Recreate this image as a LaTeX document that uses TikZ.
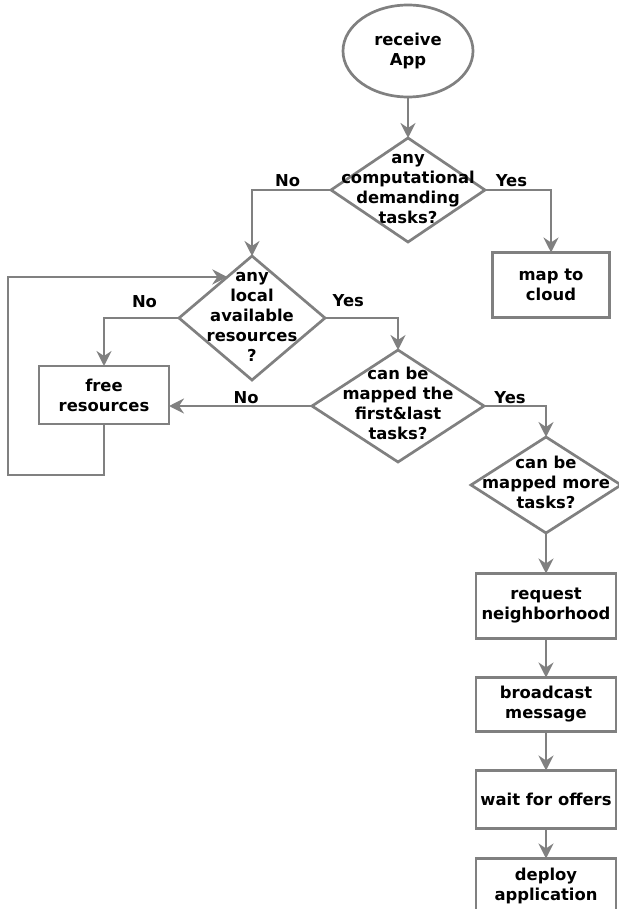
\documentclass[tikz,border=0pt]{standalone}
\usepackage{fontspec}
\setmainfont{DejaVu Sans}
\usepackage{tikz}
\usetikzlibrary{positioning, shapes.geometric, arrows.meta}
\definecolor{flowgray}{RGB}{128,128,128}
\newcommand{\dectext}[1]{\makebox[0pt]{\smash{\raisebox{-4pt}{\begin{tabular}{@{}c@{}}#1\end{tabular}}}}}
\tikzset{
    base/.style={draw=flowgray, line width=2.7pt, fill=white, align=center, text=black, outer sep=0pt, font=\bfseries\fontsize{16.4}{20}\selectfont},
    startnode/.style={base, ellipse, minimum width=130pt, minimum height=92pt, inner sep=0pt},
    box/.style={base, rectangle, minimum width=140pt, minimum height=60pt, inner sep=2pt},
    decision/.style={base, diamond, inner sep=0pt},
    arrow/.style={draw=flowgray, line width=2.7pt, -{Stealth[length=15pt, width=15pt, inset=5pt]}},
    answer/.style={font=\bfseries\fontsize{16.4}{20}\selectfont, inner sep=1pt}
}
\begin{document}
\begin{tikzpicture}[x=1pt, y=-1pt]
    \useasboundingbox (0,0) rectangle (618,909);
    % Nodes
    \node [startnode] (recv) at (408,51) {receive\\App};
    \node [decision, minimum width=154pt, minimum height=104pt] (compute) at (408,190) {\dectext{any\\computational\\demanding\\tasks?}};
    \node [box, minimum width=117pt, minimum height=65pt] (cloud) at (551,285) {map to\\cloud};
    \node [decision, minimum width=146pt, minimum height=124pt] (local) at (252,318) {\dectext{any\\local\\available\\resources\\?}};
    \node [box, minimum width=130pt, minimum height=58pt] (free) at (104,395) {free\\resources};
    \node [decision, minimum width=172pt, minimum height=112pt] (firstlast) at (398,406) {\dectext{can be\\mapped the\\first\&last\\tasks?}};
    \node [decision, minimum width=150pt, minimum height=96pt] (more) at (546,485) {\dectext{can be\\mapped more\\tasks?}};
    \node [box, minimum height=65pt] (request) at (546,606) {request\\neighborhood};
    \node [box, minimum height=54pt, below=39pt of request] (bcast) {broadcast\\message};
    \node [box, minimum height=58pt, below=39pt of bcast] (wait) {wait for offers};
    \node [box, minimum height=54pt, below=30pt of wait] (deploy) {deploy\\application};

    % Connections
    \draw [arrow] (recv) -- (compute);
    \draw [arrow] (compute.west) -| node [answer, pos=0.275, above=1pt] (no1) {No} (local.north);
    \draw [arrow] (compute.east) -| node [answer, pos=0.2, above=1pt] (yes1) {Yes} (cloud.north);
    \draw [arrow] (local.west) -| node [answer, pos=0.23, above=8pt] (no2) {No} (free.north);
    \draw [arrow] (local.east) -| node [answer, pos=0.16, above=9pt] (yes2) {Yes} (firstlast.north);
    \draw [arrow] (firstlast.west) -- node [answer, pos=0.46, above=0pt] (no3) {No} (firstlast.west -| free.east);
    \draw [arrow] (firstlast.east) -| node [answer, pos=0.21, above=0pt] (yes3) {Yes} (more.north);
    \draw [arrow] (more) -- (request);
    \draw [arrow] (request) -- (bcast);
    \draw [arrow] (bcast) -- (wait);
    \draw [arrow] (wait) -- (deploy);

    % Loop back
    \coordinate (loopcorner) at (8,475);
    \draw [arrow] (free.south) |- (loopcorner) |- (local.121);
\end{tikzpicture}
\end{document}
